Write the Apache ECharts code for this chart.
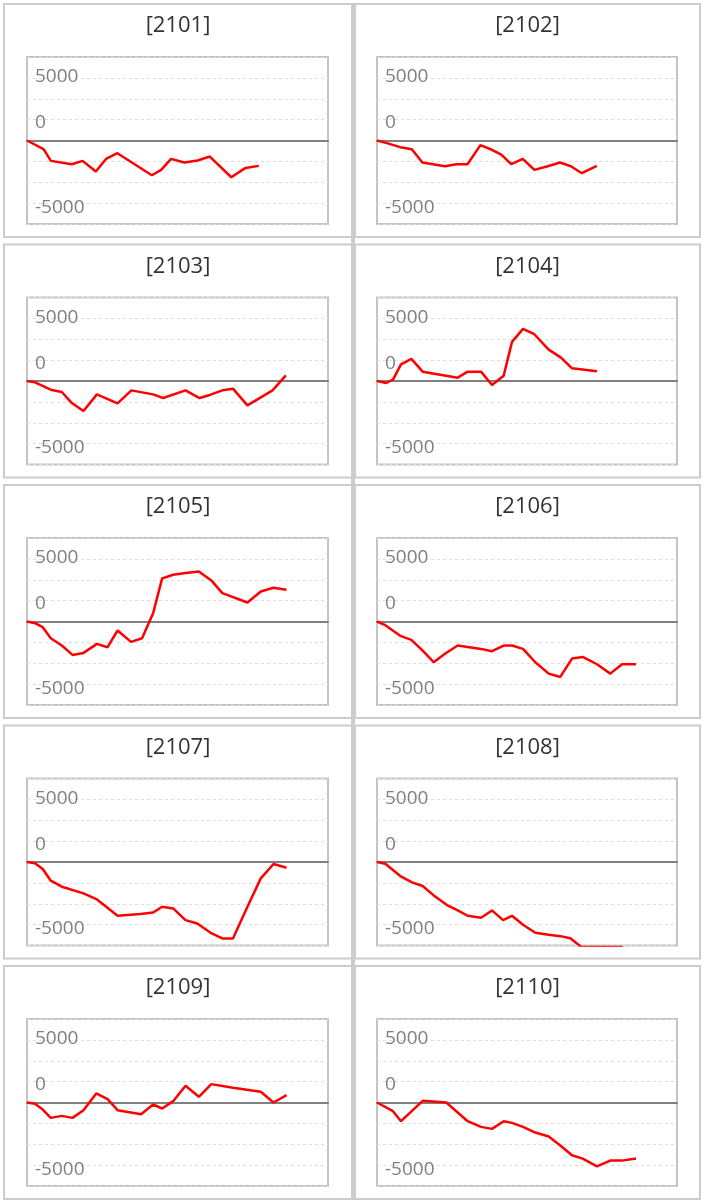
<!DOCTYPE html>
<html>
<head>
<meta charset="utf-8">
<script src="https://cdn.jsdelivr.net/npm/echarts@6/dist/echarts.min.js"></script>
<style>
html,body{margin:0;padding:0;background:#ffffff;}
#chart{width:705px;height:1203px;}
</style>
</head>
<body>
<div id="chart"></div>
<script>
// Panel titles
const panelTitles = ['[2101]','[2102]','[2103]','[2104]','[2105]','[2106]','[2107]','[2108]','[2109]','[2110]'];

// Y-axis tick labels (shown on the ticks they appear beside)
const yTickLabels = ['5000', '0', '-5000'];

// Series values: x = position along the month, y = cumulative value
const x2101 = [0, 1.65, 2.38, 4.46, 5.54, 6.86, 7.92, 9.01, 12.44, 13.37, 14.36, 15.68, 17.0, 18.22, 20.36, 21.78, 23.1];
const y2101 = [0, -693, -1627, -1893, -1627, -2480, -1440, -1013, -2773, -2347, -1467, -1760, -1600, -1280, -2933, -2187, -2027];

const x2102 = [0, 0.99, 2.32, 3.48, 4.54, 6.79, 7.95, 9.05, 10.34, 11.44, 12.43, 13.42, 14.58, 15.74, 17.07, 18.3, 19.39, 20.48, 21.98];
const y2102 = [0, -213, -533, -693, -1760, -2053, -1893, -1893, -373, -720, -1120, -1893, -1467, -2347, -2053, -1760, -2053, -2613, -2027];

const x2103 = [0, 0.8, 2.47, 3.47, 4.47, 5.63, 6.97, 9.03, 10.4, 12.57, 13.57, 15.8, 17.2, 18.3, 19.47, 20.53, 21.97, 24.47, 25.8];
const y2103 = [0, -107, -720, -880, -1760, -2400, -1067, -1787, -747, -1067, -1360, -747, -1360, -1093, -747, -613, -1947, -747, 453];

const x2104 = [0, 0.93, 1.6, 2.4, 3.43, 4.57, 8.07, 9.07, 10.4, 11.5, 12.67, 13.5, 14.6, 15.73, 17.17, 18.4, 19.5, 22.0];
const y2104 = [0, -160, 107, 1333, 1760, 747, 267, 747, 747, -320, 427, 3120, 4160, 3733, 2507, 1867, 1013, 773];

const x2105 = [0, 0.8, 1.57, 2.37, 3.47, 4.53, 5.63, 6.97, 8.03, 9.03, 10.37, 11.47, 12.57, 13.47, 14.57, 15.8, 17.13, 18.37, 19.47, 21.97, 23.3, 24.57, 25.87];
const y2105 = [0, -133, -453, -1333, -1920, -2667, -2507, -1787, -2053, -720, -1627, -1333, 667, 3440, 3733, 3867, 4000, 3280, 2267, 1520, 2400, 2693, 2533];

const x2106 = [0, 0.83, 2.4, 3.43, 4.57, 5.67, 6.83, 8.07, 10.4, 11.5, 12.67, 13.5, 14.6, 15.83, 17.17, 18.33, 19.5, 20.57, 22.0, 23.33, 24.5, 25.9];
const y2106 = [0, -293, -1173, -1467, -2320, -3253, -2560, -1920, -2187, -2373, -1920, -1920, -2187, -3253, -4160, -4427, -2960, -2827, -3413, -4160, -3413, -3413];

const x2107 = [0, 0.8, 1.57, 2.37, 3.47, 5.63, 6.97, 9.03, 11.3, 12.57, 13.47, 14.57, 15.8, 16.97, 18.3, 19.47, 20.53, 21.97, 23.3, 24.57, 25.87];
const y2107 = [0, -107, -560, -1493, -1973, -2507, -2987, -4293, -4160, -4027, -3573, -3707, -4640, -4907, -5653, -6107, -6107, -3573, -1307, -160, -453];

const x2108 = [0, 0.83, 2.33, 3.5, 4.57, 5.67, 7.0, 8.07, 9.07, 10.4, 11.5, 12.6, 13.5, 14.6, 15.83, 17.17, 18.33, 19.33, 20.4, 21.97, 23.3, 24.57];
const y2108 = [0, -133, -1120, -1627, -1920, -2667, -3440, -3867, -4293, -4453, -3867, -4640, -4293, -5013, -5653, -5813, -5920, -6080, -6760, -6790, -6790, -6790];

const x2109 = [0, 0.8, 1.57, 2.37, 3.47, 4.53, 5.63, 6.9, 8.03, 9.03, 11.37, 12.57, 13.47, 14.57, 15.8, 17.13, 18.37, 20.53, 23.3, 24.57, 25.87];
const y2109 = [0, -107, -560, -1227, -1067, -1227, -613, 720, 267, -613, -933, -160, -480, 107, 1333, 453, 1467, 1173, 853, 0, 587];

const x2110 = [0, 1.6, 2.4, 4.57, 6.93, 9.07, 10.4, 11.5, 12.67, 13.5, 14.6, 15.83, 17.17, 18.33, 19.5, 20.57, 22.0, 23.33, 24.5, 25.9];
const y2110 = [0, -693, -1493, 133, 0, -1493, -1947, -2107, -1493, -1627, -1947, -2400, -2720, -3440, -4213, -4480, -5093, -4640, -4640, -4480];

const panelX = [x2101, x2102, x2103, x2104, x2105, x2106, x2107, x2108, x2109, x2110];
const panelY = [y2101, y2102, y2103, y2104, y2105, y2106, y2107, y2108, y2109, y2110];

// ---- layout (pixels) ----
const ROW_PITCH = 240.5;
const colPanel = [{x: 4, w: 348, cx: 178}, {x: 355, w: 345, cx: 527.5}];
const colGrid = [{left: 27, width: 301}, {left: 377, width: 300}];
const FONT = '"Open Sans", "Noto Sans", sans-serif';
const Y_STEP = 5000 / 3;

const grids = [], xAxes = [], yAxes = [], series = [], titles = [], graphics = [];

panelTitles.forEach((t, i) => {
  const col = i % 2, row = Math.floor(i / 2);
  const top = row * ROW_PITCH;
  graphics.push({
    type: 'rect', silent: true, z: -10,
    shape: {x: colPanel[col].x, y: 4 + top, width: colPanel[col].w, height: 233},
    style: {fill: 'none', stroke: '#cccccc', lineWidth: 2}
  });
  titles.push({
    text: t, left: colPanel[col].cx, top: 15 + top, textAlign: 'center', padding: 0,
    textStyle: {fontSize: 22, fontWeight: 'normal', color: '#333333', fontFamily: FONT}
  });
  grids.push({
    left: colGrid[col].left, width: colGrid[col].width, top: 57 + top, height: 167,
    show: true, borderColor: '#c4c4c4', borderWidth: 2, backgroundColor: 'transparent',
    containLabel: false
  });
  xAxes.push({
    type: 'value', gridIndex: i, min: 0, max: 30,
    axisLine: {show: true, onZero: true, lineStyle: {color: '#808080', width: 2}},
    axisTick: {show: false}, axisLabel: {show: false}, splitLine: {show: false}
  });
  yAxes.push({
    type: 'value', gridIndex: i, min: -4 * Y_STEP, max: 4 * Y_STEP, interval: Y_STEP,
    axisLine: {show: false}, axisTick: {show: false},
    splitLine: {show: true, lineStyle: {color: '#dddddd', width: 1, type: [3, 3]}},
    axisLabel: {
      inside: true, margin: 8, color: '#808080', fontSize: 19, fontFamily: FONT,
      rich: {
        up: {color: '#808080', fontSize: 19, fontFamily: FONT, padding: [0, 0, 2, 0]},
        mid: {color: '#808080', fontSize: 19, fontFamily: FONT, padding: [6, 0, 0, 0]},
        low: {color: '#808080', fontSize: 19, fontFamily: FONT, padding: [8, 0, 0, 0]}
      },
      formatter: v => {
        const k = Math.round(v / Y_STEP);
        if (k === 3) return '{up|' + yTickLabels[0] + '}';
        if (k === 1) return '{mid|' + yTickLabels[1] + '}';
        if (k === -3) return '{low|' + yTickLabels[2] + '}';
        return '';
      }
    }
  });
  series.push({
    type: 'line', xAxisIndex: i, yAxisIndex: i, symbol: 'none', smooth: false,
    lineStyle: {color: '#ff0000', width: 2.5}, itemStyle: {color: '#ff0000'},
    data: panelX[i].map((x, j) => [x, panelY[i][j]])
  });
});

// continuous divider between the two columns
graphics.push({
  type: 'rect', silent: true, z: -10,
  shape: {x: 351, y: 3, width: 4, height: 1197},
  style: {fill: '#cccccc'}
});

const chart = echarts.init(document.getElementById('chart'), null, {renderer: 'canvas'});
chart.setOption({
  animation: false,
  backgroundColor: '#ffffff',
  title: titles,
  grid: grids,
  xAxis: xAxes,
  yAxis: yAxes,
  series: series,
  graphic: graphics
});
</script>
</body>
</html>
